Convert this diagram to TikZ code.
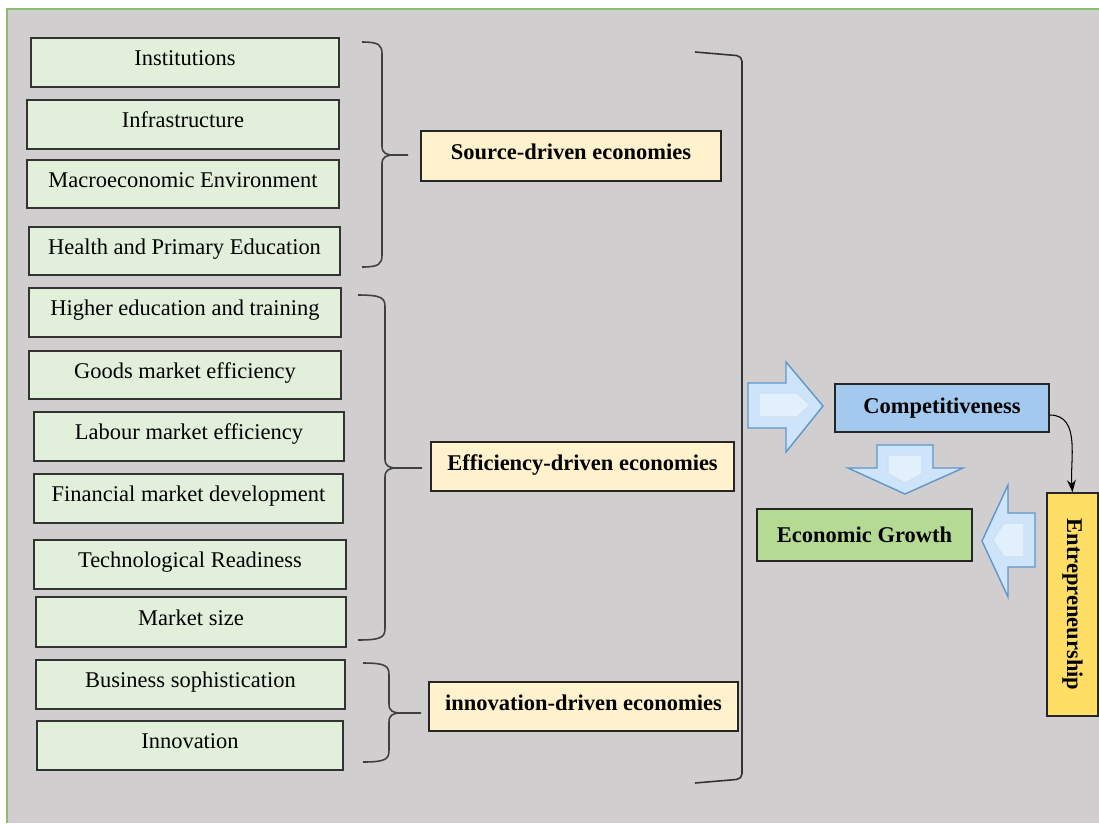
\documentclass[tikz,border=0pt]{standalone}
\usepackage{fontspec}
\setmainfont{Liberation Serif}
\usepackage{xcolor}
\usepackage{tikz}
\usetikzlibrary{calc,arrows.meta}
\definecolor{bggrey}{RGB}{208,206,207}
\definecolor{frameg}{RGB}{140,190,110}
\definecolor{factorg}{RGB}{226,239,218}
\definecolor{stagey}{RGB}{255,242,204}
\definecolor{compblue}{RGB}{163,201,238}
\definecolor{growthg}{RGB}{180,218,148}
\definecolor{entrey}{RGB}{255,222,102}
\definecolor{arrfill}{RGB}{206,228,250}
\definecolor{arrline}{RGB}{95,150,205}

\begin{document}
\begin{tikzpicture}[x=0.02cm,y=-0.02cm,
	txt/.style={font=\fontsize{12.8pt}{15pt}\selectfont},
	factor/.style={txt,draw=black!80,line width=0.9pt,fill=factorg,inner sep=0pt,text height=0.31cm,text depth=0.18cm},
	result/.style={font=\fontsize{12.8pt}{15pt}\selectfont\bfseries,draw=black!85,line width=0.9pt,fill=#1,inner sep=0pt},
	stage/.style={result=stagey,text height=0.31cm,text depth=0.16cm},
	grp/.style={draw=black!75,line width=0.9pt},
	blockarr/.style={draw=arrline,line width=0.8pt,fill=arrfill,line join=miter},
	innerarr/.style={draw=white!70!arrline,line width=0.6pt,fill=arrfill!60!white}]
\useasboundingbox (0,0) rectangle (1099,823);
\fill[bggrey] (7,9) rectangle (1099,823);
\draw[frameg,line width=1.6pt] (7,823) -- (7,9) -- (1099,9);
% pillars
\foreach \nm/\xa/\ya/\xb/\yb/\t in {inst/31/38/339/87/Institutions, infra/27/100/339/149/Infrastructure,
	macro/27/160/339/208/Macroeconomic Environment, health/29/227/340/275/Health and Primary Education,
	higher/29/288/341/337/Higher education and training, goods/29/351/341/399/Goods market efficiency,
	labour/34/412/344/461/Labour market efficiency, finan/34/474/343/523/Financial market development,
	tech/34/540/346/589/Technological Readiness, msize/36/597/346/647/Market size,
	busi/36/660/345/709/Business sophistication, innov/37/721/343/770/Innovation}{
	\node[factor,minimum width={(\xb-\xa)*0.02cm},minimum height={(\yb-\ya)*0.02cm}] (\nm) at ({(\xa+\xb)/2},{(\ya+\yb)/2}) {\t};
	}
% stages
\node[stage,minimum width=6cm,minimum height=1cm] (source) at (571,156) {Source-driven economies};
\node[stage,minimum width=6.06cm,minimum height=0.98cm] (effic) at (582.5,466.5) {Efficiency-driven economies};
\node[stage,minimum width=6.18cm,minimum height=0.98cm] (innodr) at (583.5,706.5) {innovation-driven economies};
\foreach \xa/\xv/\xt/\ya/\ym/\yb in {362/382/408/42/155/267, 358/385/422/295/468/640, 363/389/421/663/713/762}{
	\draw[grp] (\xa,\ya) .. controls ({\xv-3},\ya) and (\xv,{\ya+3}) .. (\xv,{\ya+12}) -- (\xv,{\ym-9})
	.. controls (\xv,{\ym-2}) and ({\xv+4},\ym) .. ({\xv+12},\ym) -- (\xt,\ym)
	({\xv+12},\ym) .. controls ({\xv+4},\ym) and (\xv,{\ym+2}) .. (\xv,{\ym+9}) -- (\xv,{\yb-12})
	.. controls (\xv,{\yb-3}) and ({\xv-3},\yb) .. (\xa,\yb);
	}
\draw[black!80,line width=0.9pt,rounded corners=3pt] (695,52) -- (742,56) -- (742,779) -- (695,783);
% outcome
\node[result=compblue,minimum width=4.28cm,minimum height=0.96cm] (comp) at (942,408) {Competitiveness};
\node[result=growthg,minimum width=4.3cm,minimum height=1.04cm] (growth) at (864.5,535) {Economic Growth};
\node[result=entrey,rotate=-90,minimum width=4.46cm,minimum height=1.02cm] (entre) at (1072.5,604.5) {Entrepreneurship};
\draw[black,line width=0.6pt,-{Stealth[length=7pt,width=5pt]}] ([yshift=-0.14cm]comp.east) to[out=0,in=95] (entre.west);
\draw[blockarr] (748,383) -- (786,383) -- (786,362) -- (823,406) -- (786,452) -- (786,428) -- (748,428) -- cycle;
\draw[innerarr] (759,393) -- (797,393) -- (810,405) -- (797,417) -- (759,417) -- cycle;
\draw[blockarr] (877,445) -- (933,445) -- (933,468) -- (963,468) -- (905,494) -- (848,468) -- (877,468) -- cycle;
\draw[innerarr] (888,455) -- (922,455) -- (922,474) -- (905,483) -- (888,474) -- cycle;
\draw[blockarr] (1035,513) -- (1008,513) -- (1008,485) -- (982,541) -- (1008,597) -- (1008,567) -- (1035,567) -- cycle;
\draw[innerarr] (1024,523) -- (1004,523) -- (993,540) -- (1004,557) -- (1024,557) -- cycle;
\end{tikzpicture}
\end{document}
